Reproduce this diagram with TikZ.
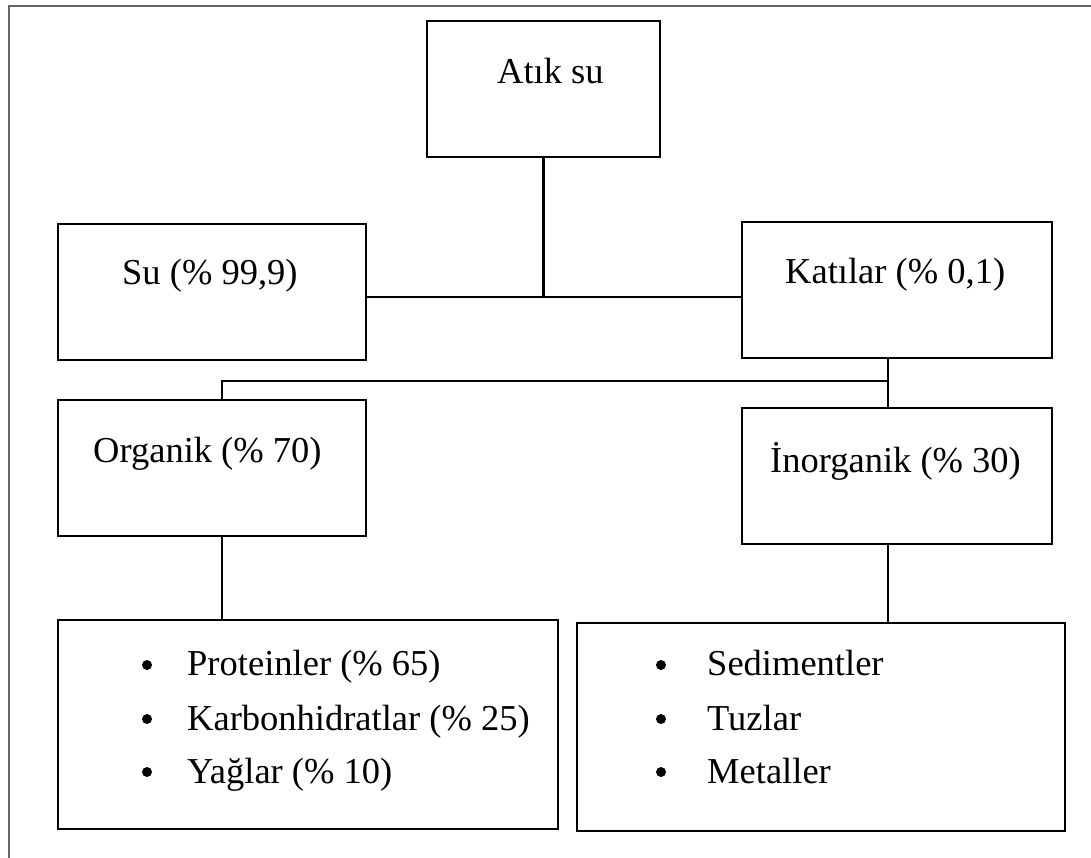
\documentclass[tikz,border=0pt]{standalone}
\usepackage{fontspec}
\setmainfont{Liberation Serif}
\begin{document}
\begin{tikzpicture}[x=1pt,y=-1pt,
  box/.style={draw=black, line width=2.4pt, inner sep=0pt, fill=white},
  lbl/.style={anchor=base west, inner sep=0pt, font=\fontsize{36.5}{44}\selectfont},
  dot/.style={circle, fill=black, inner sep=0pt, minimum size=10pt},
  link/.style={line width=2.2pt},
  frame/.style={draw=black!60, line width=2.8pt}]
\useasboundingbox (0,0) rectangle (1091,857);
\fill[white] (0,0) rectangle (1091,857);
% outer frame, open at the right and bottom
\draw[frame] (9,870) |- (1100,6);

% boxes
\node[box, minimum width=233pt, minimum height=136pt] (atik) at (543.5,89) {};
\node[box, minimum width=308pt, minimum height=136pt] (su) at (212,292) {};
\node[box, minimum width=310pt, minimum height=136pt] (kat) at (897,290) {};
\node[box, minimum width=308pt, minimum height=136pt] (org) at (212,468) {};
\node[box, minimum width=310pt, minimum height=136pt] (inorg) at (897,476) {};
\node[box, minimum width=500pt, minimum height=209pt] (bl) at (308,724.5) {};
\node[box, minimum width=488pt, minimum height=208pt] (br) at (821,727) {};

% junction points
\coordinate (j1) at (543.5,297);
\coordinate (j2) at (888,381);
\coordinate (j3) at (222,381);

% connectors
\draw[link] (atik.south) -- (j1);
\draw[link] (su.east |- j1) -- (kat.west |- j1);
\draw[link] (kat.south -| j2) -- (inorg.north -| j2);
\draw[link] (j2) -- (j3) -- (org.north -| j3);
\draw[link] (org.south -| j3) -- (bl.north -| j3);
\draw[link] (inorg.south -| j2) -- (br.north -| j2);

% box titles
\node[lbl] (tatik) at (497,83) {Atık su};
\node[lbl] (tsu) at (122,284) {Su (\% 99,9)};
\node[lbl] (tkat) at (785,283) {Katılar (\% 0,1)};
\node[lbl] (torg) at (93,462) {Organik (\% 70)};
\node[lbl] (tinorg) at (770,472) {İnorganik (\% 30)};

% organic components
\node[dot] (bl1) at (147,665) {};
\node[dot] (bl2) at (147,719) {};
\node[dot] (bl3) at (147,772) {};
\node[lbl] (tl1) at (187,675) {Proteinler (\% 65)};
\node[lbl] (tl2) at (187,730) {Karbonhidratlar (\% 25)};
\node[lbl] (tl3) at (187,783) {Yağlar (\% 10)};

% inorganic components
\node[dot] (br1) at (661,665) {};
\node[dot] (br2) at (661,719) {};
\node[dot] (br3) at (661,772) {};
\node[lbl] (tr1) at (707,675) {Sedimentler};
\node[lbl] (tr2) at (707,730) {Tuzlar};
\node[lbl] (tr3) at (707,783) {Metaller};
\end{tikzpicture}
\end{document}
